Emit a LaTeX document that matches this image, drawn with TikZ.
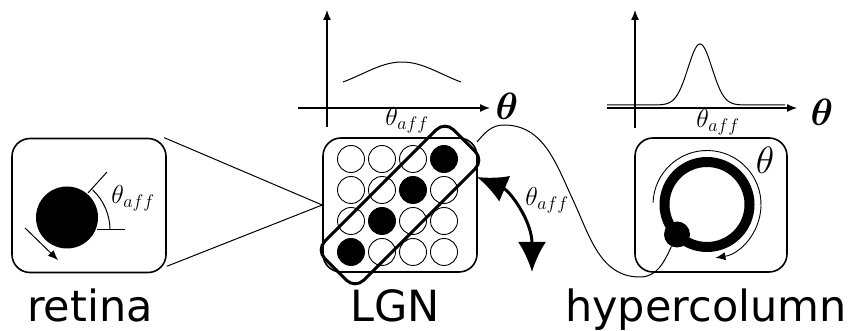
\RequirePackage{fix-cm}
\documentclass[tikz,border=0pt]{standalone}
\usepackage{fontspec}
\setmainfont{DejaVu Sans}
\usepackage{bm}
\usetikzlibrary{arrows.meta}
\newcommand{\Aff}{$\theta_{aff}$}

\begin{document}
\begin{tikzpicture}[
                    >={Latex[length=10pt,width=8pt]},
                x=1pt, y=1pt,
                box/.style={draw, line width=1.6pt, rounded corners=18pt, minimum width=154pt, minimum height=134pt},
                cell/.style={draw, circle, line width=0.9pt, minimum size=27pt, inner sep=0pt},
                blob/.style={circle, fill, inner sep=0pt},
                axis/.style={->, line width=1.3pt},
                tuning/.style={line width=1pt},
                lbl/.style={font=\fontsize{43}{50}\selectfont, anchor=base},
                ang/.style={font=\fontsize{26}{30}\selectfont},
                bigth/.style={font=\fontsize{38}{44}\selectfont}]

                \useasboundingbox (0,0) rectangle (858,331);

                \draw(89,125.5) node[box] (R) {};
                \draw(67,113.5) node[blob, minimum size=62pt] (S) {};
                \draw[line width=1pt] (97,101) -- (125,101);
                \draw[line width=1pt] (88,138) -- (107,159);
                \draw[line width=1pt] (110,101) arc[start angle=0, end angle=47, radius=55];
                \draw(133,133) node[ang] {\Aff};
                \draw[->, line width=1pt] (25,103) -- (58,71);
                \draw(90,9) node[lbl] {retina};

                \draw(400,126) node[box] (L) {};
                \foreach \r in {1,...,4}
                  \foreach \c in {1,...,4} {
                    \ifnum\numexpr\r+\c\relax=5 \def\cellfill{black}\else\def\cellfill{white}\fi
                    \draw({351+31*(\c-1)},{172-31*(\r-1)}) node[cell, fill=\cellfill] (c\r\c) {};
                  }
                \draw(400,126) node[draw, line width=3pt, rounded corners=12pt, minimum width=182pt, minimum height=55pt, rotate=45] (F) {};
                \draw(407,211) node[ang] {\Aff};
                \draw[line width=1pt] (R.42) -- (L.west);
                \draw[line width=1pt] (R.-38) -- (L.west);
                \draw[{Latex[length=30pt,width=28pt]}-{Latex[length=30pt,width=28pt]}, line width=3pt]
                    (477,154) .. controls (510,140) and (532,110) .. (532,59);
                \draw(547,131) node[ang] {\Aff};
                \draw(395,9) node[lbl] {LGN};

                \draw[axis] (327,204) -- (327,321);
                \draw[axis] (298,223) -- (490,223);
                \draw(507,225) node[bigth] {$\bm{\theta}$};
                \draw[tuning] plot[domain=343:461, samples=50] (\x, {238.8+30.2*exp(-1*((\x-402)^2)/3200)});

                \draw[axis] (635,203) -- (635,321);
                \draw[axis] (607,223) -- (797,223);
                \draw(822,219) node[bigth] {$\bm{\theta}$};
                \draw[tuning] plot[domain=607:785, samples=120] (\x, {226+61*exp(-1*((\x-700)^2)/288)});
                \draw(718,209) node[ang] {\Aff};

                \draw(711,126) node[box, minimum width=152pt] (H) {};
                \draw[line width=10pt] (707,126.5) circle[radius=42.5];
                \draw(677,96.5) node[blob, minimum size=26pt] (D) {};
                \draw[->, line width=0.9pt] (707,126.5) ++(178:54) arc[start angle=178, end angle=-81, radius=54];
                \draw(765,171) node[bigth] {$\theta$};
                \draw(706,9) node[lbl] {hypercolumn};

                \coordinate (T) at (477,189);
                \draw[line width=1pt] (T) to[out=50,in=180] (504,206) to[out=0,in=115] (573,131)
                    to[out=-65,in=180] (640,54) to[out=0,in=-115] (D);

            \end{tikzpicture}
\end{document}
